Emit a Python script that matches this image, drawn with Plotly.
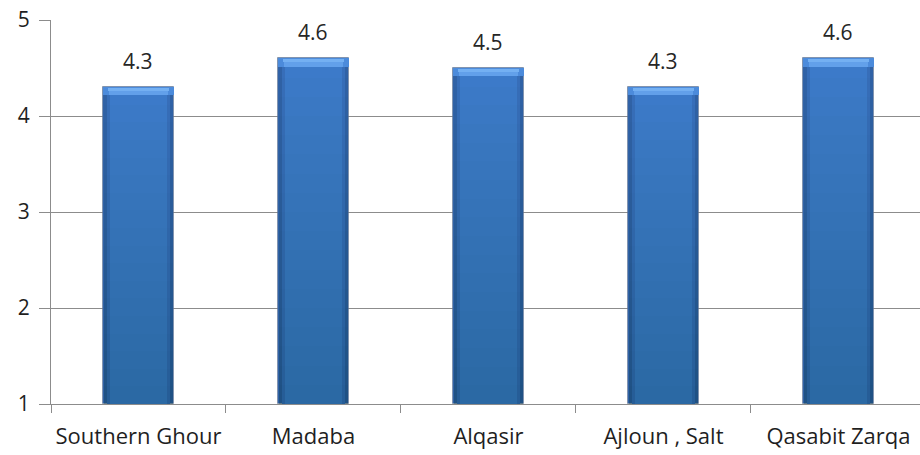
import plotly.graph_objects as go

# Average scores per area
areas = ["Southern Ghour", "Madaba", "Alqasir", "Ajloun , Salt", "Qasabit Zarqa"]
scores = [4.3, 4.6, 4.5, 4.3, 4.6]
label_text = ["4.3", "4.6", "4.5", "4.3", "4.6"]

AXIS_MIN = 1
BAR_W = 0.405
N_SHADE = 18
FONT = "Open Sans, DejaVu Sans"

fig = go.Figure()

heights = [v - AXIS_MIN for v in scores]

# darker body defines the side edges of each bar
fig.add_trace(go.Bar(
    x=areas, y=heights, base=AXIS_MIN, width=BAR_W,
    marker=dict(color="#3163a8", line=dict(color="rgba(110,120,140,0.5)", width=1)),
    hoverinfo="skip"))
# lighter centre face, in two steps
fig.add_trace(go.Bar(
    x=areas, y=heights, base=AXIS_MIN, width=BAR_W * 0.9,
    marker=dict(color="#386fbb", line=dict(width=0)), hoverinfo="skip"))
fig.add_trace(go.Bar(
    x=areas, y=heights, base=AXIS_MIN, width=BAR_W * 0.8,
    marker=dict(color="#3d7bcc", line=dict(width=0)), hoverinfo="skip"))
# vertical shading: darker toward the bottom
for k in range(1, N_SHADE + 1):
    frac = k / N_SHADE
    fig.add_trace(go.Bar(
        x=areas, y=[h * frac for h in heights], base=AXIS_MIN,
        width=BAR_W * 0.98,
        marker=dict(color="rgba(20,45,95,0.016)", line=dict(width=0)),
        hoverinfo="skip"))
# bevel on the top of each bar
fig.add_trace(go.Bar(
    x=areas, y=[0.085] * len(scores), base=[v - 0.085 for v in scores], width=BAR_W,
    marker=dict(color="#4c8bdb", line=dict(width=0)), hoverinfo="skip"))
fig.add_trace(go.Bar(
    x=areas, y=[0.065] * len(scores), base=[v - 0.085 for v in scores], width=BAR_W * 0.82,
    marker=dict(color="#62a0ea", line=dict(width=0)), hoverinfo="skip"))
fig.add_trace(go.Bar(
    x=areas, y=[0.03] * len(scores), base=[v - 0.04 for v in scores], width=BAR_W * 0.86,
    marker=dict(color="#74b0f2", line=dict(width=0)), hoverinfo="skip"))

for a, v, t in zip(areas, scores, label_text):
    fig.add_annotation(x=a, y=v, text=t, showarrow=False, yanchor="middle",
                       yshift=26, font=dict(family=FONT, size=21, color="#262626"))

fig.update_layout(
    width=920, height=455,
    margin=dict(l=51, r=0, t=20, b=51),
    barmode="overlay", bargap=0,
    showlegend=False,
    paper_bgcolor="white", plot_bgcolor="white",
    font=dict(family=FONT, size=21, color="#1f1f1f"),
)
fig.update_xaxes(
    range=[-0.5, 4.466], type="category",
    showline=True, linecolor="#8c8c8c", linewidth=1,
    ticks="outside", tickson="boundaries", ticklen=8, tickcolor="#8c8c8c",
    showgrid=False, tickfont=dict(family=FONT, size=22, color="#1f1f1f"),
    ticklabelstandoff=13,
)
fig.update_yaxes(
    range=[1, 5], dtick=1, tick0=1,
    showline=True, linecolor="#8c8c8c", linewidth=1,
    ticks="outside", ticklen=11, tickcolor="#8c8c8c",
    showgrid=True, gridcolor="#8c8c8c", gridwidth=1,
    tickfont=dict(family=FONT, size=21, color="#1f1f1f"),
    ticklabelstandoff=5, zeroline=False,
)

fig.write_html("out.html")
